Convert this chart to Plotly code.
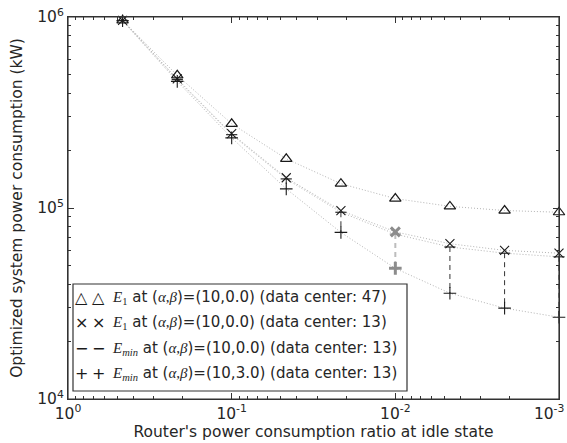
import plotly.graph_objects as go

# ---- data ----
idle_ratio = [0.464, 0.215, 0.1, 0.0464, 0.0215, 0.01, 0.00464, 0.00215, 0.001]
e1_dc47 = [9.6e5, 4.95e5, 2.76e5, 1.81e5, 1.34e5, 1.12e5, 1.02e5, 9.7e4, 9.5e4]
e1_dc13 = [9.6e5, 4.74e5, 2.45e5, 1.44e5, 9.7e4, 7.5e4, 6.5e4, 6.0e4, 5.8e4]
emin_b0_dc13 = [9.6e5, 4.70e5, 2.42e5, 1.42e5, 9.5e4, 7.3e4, 6.25e4, 5.8e4, 5.55e4]
emin_b3_dc13 = [9.55e5, 4.6e5, 2.33e5, 1.26e5, 7.45e4, 4.83e4, 3.58e4, 2.99e4, 2.68e4]
highlight_index = 5

x_tickvals = [1, 0.1, 0.01, 0.001]
x_ticktext = ["10<sup>0</sup>", "10<sup>-1</sup>", "10<sup>-2</sup>",
              "10<sup>-3</sup>\u00a0\u00a0\u00a0\u00a0"]
y_tickvals = [1e4, 1e5, 1e6]
y_ticktext = ["10<sup>4</sup>", "10<sup>5</sup>", "10<sup>6</sup>"]

SERIF = "<span style='font-family:Liberation Serif'>"
legend_symbols = ["△", "×", "−", "+"]
legend_labels = [
    SERIF + "<i>E</i><sub>1</sub></span> at (" + SERIF + "<i>α</i>,<i>β</i></span>)=(10,0.0) (data center: 47)",
    SERIF + "<i>E</i><sub>1</sub></span> at (" + SERIF + "<i>α</i>,<i>β</i></span>)=(10,0.0) (data center: 13)",
    SERIF + "<i>E</i><sub><i>min</i></sub></span> at (" + SERIF + "<i>α</i>,<i>β</i></span>)=(10,0.0) (data center: 13)",
    SERIF + "<i>E</i><sub><i>min</i></sub></span> at (" + SERIF + "<i>α</i>,<i>β</i></span>)=(10,3.0) (data center: 13)",
]

W, H = 567, 443
L, R, T, B = 68, 559, 17, 399   # plot-area pixel edges


def px_x(p):
    return (p - L) / (R - L)


def px_y(p):
    return (B - p) / (B - T)


FONT = "DejaVu Sans"
TXT = "#262626"
DOT = "#b4b4b4"
AX = "#333333"

fig = go.Figure()

for ys in [e1_dc47, e1_dc13, emin_b0_dc13, emin_b3_dc13]:
    fig.add_trace(go.Scatter(x=idle_ratio, y=ys, mode="lines",
                             line=dict(color=DOT, width=1, dash="1px,2px"),
                             hoverinfo="skip", showlegend=False))

vx, vy = [], []
for i, (xv, a, b) in enumerate(zip(idle_ratio, emin_b0_dc13, emin_b3_dc13)):
    if i == highlight_index:
        continue
    vx += [xv, xv, None]
    vy += [a, b, None]
fig.add_trace(go.Scatter(x=vx, y=vy, mode="lines",
                         line=dict(color=AX, width=1, dash="5px,4px"),
                         hoverinfo="skip", showlegend=False))
hi = highlight_index
fig.add_trace(go.Scatter(x=[idle_ratio[hi], idle_ratio[hi]],
                         y=[emin_b0_dc13[hi], emin_b3_dc13[hi]], mode="lines",
                         line=dict(color="#bdbdbd", width=2, dash="5px,4px"),
                         hoverinfo="skip", showlegend=False))

cols = ["#1a1a1a"] * len(idle_ratio)
cols[hi] = "#8c8c8c"
lw = [1.1] * len(idle_ratio)
lw[hi] = 3

fig.add_trace(go.Scatter(x=idle_ratio, y=emin_b0_dc13, mode="markers", cliponaxis=False,
                         marker=dict(symbol="line-ew-open", size=8, color=cols,
                                     line=dict(width=1.1, color=cols)),
                         showlegend=False))
fig.add_trace(go.Scatter(x=idle_ratio, y=e1_dc47, mode="markers", cliponaxis=False,
                         marker=dict(symbol="triangle-up-open", size=10, color="#1a1a1a",
                                     line=dict(width=1.2)),
                         showlegend=False))
fig.add_trace(go.Scatter(x=idle_ratio, y=e1_dc13, mode="markers", cliponaxis=False,
                         marker=dict(symbol="x-thin-open", size=9, color=cols,
                                     line=dict(width=lw, color=cols)),
                         showlegend=False))
fig.add_trace(go.Scatter(x=idle_ratio, y=emin_b3_dc13, mode="markers", cliponaxis=False,
                         marker=dict(symbol="cross-thin-open", size=9, color=cols,
                                     line=dict(width=lw, color=cols)),
                         showlegend=False))
# invisible trace that carries the right-hand tick axis
fig.add_trace(go.Scatter(x=idle_ratio[:1], y=e1_dc47[:1], yaxis="y2", mode="markers",
                         marker=dict(opacity=0), hoverinfo="skip", showlegend=False))

# ---- legend drawn as a box with text rows ----
leg_rows = [297, 322, 348, 373]
for ry, sym, lab in zip(leg_rows, legend_symbols, legend_labels):
    for sx in (81, 98):
        fig.add_annotation(x=px_x(sx), y=px_y(ry), xref="paper", yref="paper", text=sym,
                           showarrow=False, xanchor="center", yanchor="middle",
                           font=dict(family=FONT, size=16, color="#1a1a1a"))
    fig.add_annotation(x=px_x(110), y=px_y(ry), xref="paper", yref="paper", text=lab,
                       showarrow=False, xanchor="left", yanchor="middle",
                       font=dict(family=FONT, size=15, color=TXT))
fig.add_shape(type="rect", xref="paper", yref="paper",
              x0=px_x(73), x1=px_x(407), y0=px_y(391), y1=px_y(284),
              line=dict(color=AX, width=1.2), fillcolor="white", layer="below")
# plot frame
fig.add_shape(type="rect", xref="paper", yref="paper", x0=0, x1=1, y0=0, y1=1,
              line=dict(color=AX, width=1.2), fillcolor="rgba(0,0,0,0)", layer="above")

x_minor = [k * 10.0 ** e for e in (-3, -2, -1) for k in range(2, 10)]
y_minor = [k * 10.0 ** e for e in (4, 5) for k in range(2, 10)]

yaxis_common = dict(type="log", range=[4, 6], automargin=False,
                    ticks="inside", ticklen=6, tickcolor=AX, tickwidth=1,
                    minor=dict(tickmode="array", tickvals=y_minor, ticks="inside", ticklen=3,
                               tickcolor=AX, showgrid=False),
                    showgrid=False, zeroline=False, showline=True, linecolor=AX,
                    linewidth=1.2)

fig.update_layout(
    width=W, height=H,
    margin=dict(l=L, r=W - R, t=T, b=H - B, autoexpand=False),
    plot_bgcolor="white", paper_bgcolor="white",
    font=dict(family=FONT, color=TXT),
    xaxis=dict(type="log", range=[0, -3], automargin=False,
               tickmode="array", tickvals=x_tickvals, ticktext=x_ticktext,
               ticks="inside", ticklen=6, tickcolor=AX, tickwidth=1,
               minor=dict(tickmode="array", tickvals=x_minor, ticks="inside", ticklen=3,
                          tickcolor=AX, showgrid=False),
               showgrid=False, zeroline=False, showline=True, linecolor=AX,
               linewidth=1.2, mirror="ticks", ticklabeloverflow="allow",
               tickfont=dict(size=15.5, color=TXT),
               title=dict(text="Router's power consumption ratio at idle state",
                          font=dict(size=15.5, color=TXT), standoff=3)),
    yaxis=dict(**yaxis_common,
               tickmode="array", tickvals=y_tickvals, ticktext=y_ticktext,
               mirror="ticks", ticklabeloverflow="allow",
               tickfont=dict(size=15.5, color=TXT),
               title=dict(text="Optimized system power consumption (kW)",
                          font=dict(size=15.5, color=TXT), standoff=10)),
    yaxis2=dict(**yaxis_common, overlaying="y", side="right",
                tickmode="array", tickvals=y_tickvals, showticklabels=False),
    showlegend=False,
)

fig.write_html("out.html", config={"displayModeBar": False},
               post_script="document.documentElement.style.overflow='hidden';"
                           "document.body.style.margin='0';document.body.style.overflow='hidden';")
